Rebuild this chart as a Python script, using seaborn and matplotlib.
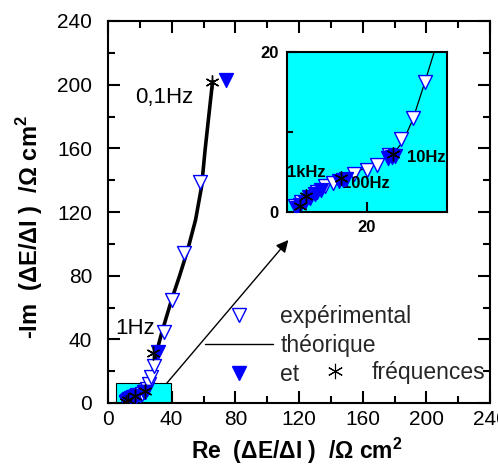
import matplotlib
matplotlib.use("Agg")
import matplotlib.pyplot as plt
from matplotlib.lines import Line2D
from matplotlib.patches import Rectangle
from matplotlib.ticker import MultipleLocator, FixedLocator
import seaborn as sns
import pandas as pd

# ---------------- data ----------------
theo_re = [11.2, 11.6, 12.35, 14.5, 16.8, 20.0, 23.3, 24.5, 25.7, 27.0, 28.4,
           29.5, 30.5, 34.0, 40.0, 45.0, 50.0, 55.0, 58.8, 61.0, 63.5, 65.7]
theo_im = [0.4, 0.7, 2.0, 3.1, 4.2, 5.6, 7.3, 8.8, 11.5, 15.5, 20.0,
           25.0, 32.0, 45.0, 65.0, 80.0, 96.0, 115.0, 136.0, 159.0, 182.0, 202.0]

exp_re = [11.0, 11.8, 12.7, 13.7, 14.75, 15.8, 18.4, 20.0, 21.2, 22.7, 24.3,
          25.8, 27.25, 29.0, 35.4, 40.0, 47.9, 57.8]
exp_im = [0.7, 1.3, 1.9, 2.5, 3.2, 3.6, 4.8, 5.25, 5.9, 7.1, 9.1,
          11.8, 16.3, 23.0, 44.8, 65.0, 94.0, 138.8]

freq_exp_re = [11.2, 11.6, 12.2, 12.9, 13.5, 14.2, 16.5, 17.0, 17.4, 22.6, 23.1, 23.5, 31.4, 73.9]
freq_exp_im = [0.5, 0.9, 1.3, 1.7, 2.2, 2.7, 3.9, 4.0, 4.1, 6.8, 6.9, 7.0, 32.0, 203.0]

freq_theo_re = [11.6, 12.35, 16.8, 23.3, 28.0, 65.1]
freq_theo_im = [0.7, 2.0, 4.2, 7.3, 31.5, 201.8]

theo = pd.DataFrame({"re": theo_re, "im": theo_im})
exp = pd.DataFrame({"re": exp_re, "im": exp_im})
fexp = pd.DataFrame({"re": freq_exp_re, "im": freq_exp_im})
fth = pd.DataFrame({"re": freq_theo_re, "im": freq_theo_im})

main_ticks_major = 40
main_ticks_minor = 20
inset_xlim = (10, 30)
inset_ylim = (0, 20)

BLUE = "#0000FF"
CYAN = "#00FFFF"
ASTER = (6, 2, 0)

# ---------------- style ----------------
sns.set_theme(style="ticks")
plt.rcParams["font.family"] = ["Liberation Sans", "DejaVu Sans"]
plt.rcParams["mathtext.fontset"] = "custom"
plt.rcParams["mathtext.rm"] = "Liberation Sans"
plt.rcParams["mathtext.bf"] = "Liberation Sans:bold"

fig = plt.figure(figsize=(4.98, 4.72), dpi=100)
ax = fig.add_axes([108 / 498, 69 / 472, 382 / 498, 382 / 472])


def draw(a, lw, z0=2):
    sns.lineplot(data=theo, x="re", y="im", sort=False, color="black",
                 linewidth=lw, ax=a, zorder=z0, estimator=None)
    sns.scatterplot(data=exp, x="re", y="im", marker="v", s=100,
                    facecolor="white", edgecolor=BLUE, linewidth=1.0,
                    ax=a, zorder=z0 + 1)
    sns.scatterplot(data=fexp, x="re", y="im", marker="v", s=100,
                    color=BLUE, edgecolor=BLUE, linewidth=1.0,
                    ax=a, zorder=z0 + 2)
    a.plot(fth["re"], fth["im"], linestyle="none", marker=ASTER,
           markersize=10, markeredgewidth=1.0, color="black", zorder=z0 + 3)


# inset-region rectangle on main plot
box_x0, box_y0, box_w, box_h = 4.8, 0.0, 34.6, 12.8
ax.add_patch(Rectangle((box_x0, box_y0), box_w, box_h, facecolor=CYAN,
                       edgecolor="black", linewidth=0.8, zorder=1))
draw(ax, 2.6)

ax.set_xlim(0, 240)
ax.set_ylim(0, 240)
ax.xaxis.set_major_locator(MultipleLocator(main_ticks_major))
ax.yaxis.set_major_locator(MultipleLocator(main_ticks_major))
ax.xaxis.set_minor_locator(MultipleLocator(main_ticks_minor))
ax.yaxis.set_minor_locator(MultipleLocator(main_ticks_minor))
ax.tick_params(which="both", direction="in", top=True, right=True,
               width=1.5, color="black", labelsize=15, labelcolor="black")
ax.tick_params(which="major", length=8.5)
ax.tick_params(which="minor", length=5)
ax.tick_params(axis="x", pad=5)
ax.tick_params(axis="y", pad=11.5)
for sp in ax.spines.values():
    sp.set_linewidth(1.5)
    sp.set_color("black")

ax.set_xlabel("Re  (ΔE/ΔI )  /Ω cm$^{\\mathbf{2}}$",
              fontsize=16.5, fontweight="bold", color="black")
ax.set_ylabel("-Im  (ΔE/ΔI )  /Ω cm$^{\\mathbf{2}}$",
              fontsize=17, fontweight="bold", color="black")
ax.xaxis.set_label_coords(0.495, -0.085)
ax.yaxis.set_label_coords(-0.165, 0.46)

ax.text(53.4, 192.2, "0,1Hz", fontsize=16, ha="right", va="center", color="black")
ax.text(4.4, 47.0, "1Hz", fontsize=16, ha="left", va="center", color="black")

# arrow from box to inset
ax.annotate("", xy=(113.3, 102.4), xytext=(box_x0 + box_w - 2.5, box_h - 0.4),
            arrowprops=dict(arrowstyle="-|>", color="black", lw=1.0,
                            mutation_scale=18, shrinkA=0, shrinkB=0), zorder=3)

# legends
h_open = Line2D([], [], linestyle="none", marker="v", markersize=10,
                markerfacecolor="white", markeredgecolor=BLUE, markeredgewidth=1.0)
h_line = Line2D([], [], color="black", linewidth=1.0)
h_fill = Line2D([], [], linestyle="none", marker="v", markersize=10,
                markerfacecolor=BLUE, markeredgecolor=BLUE)
h_star = Line2D([], [], linestyle="none", marker=ASTER, markersize=11,
                markeredgewidth=0.8, color="black")
leg1 = ax.legend(handles=[h_open, h_line, h_fill],
                 labels=["expérimental", "théorique", "et"],
                 loc="upper left", bbox_to_anchor=(0.254, 0.257),
                 frameon=False, fontsize=16.5, handlelength=2.97,
                 handletextpad=0.31, labelspacing=0.27, borderpad=0,
                 borderaxespad=0)
ax.add_artist(leg1)
ax.legend(handles=[h_star], labels=["fréquences"], loc="center left",
          bbox_to_anchor=(0.548, 0.081), frameon=False, fontsize=16.5,
          handlelength=1.5, handletextpad=0.87, borderpad=0, borderaxespad=0)

# ---------------- inset ----------------
ins = fig.add_axes([287 / 498, 260 / 472, 160 / 498, 160 / 472], zorder=5)
ins.set_facecolor(CYAN)
draw(ins, 0.9)
ins.set_xlim(*inset_xlim)
ins.set_ylim(*inset_ylim)
ins.xaxis.set_major_locator(FixedLocator([20]))
ins.yaxis.set_major_locator(FixedLocator([0, 20]))
ins.yaxis.set_minor_locator(FixedLocator([10]))
ins.tick_params(which="both", direction="in", width=1.5, color="black",
                labelsize=12, labelcolor="black", pad=6)
ins.tick_params(which="major", length=7)
ins.tick_params(which="minor", length=4.5)
for lab in ins.get_xticklabels() + ins.get_yticklabels():
    lab.set_fontweight("bold")
for sp in ins.spines.values():
    sp.set_linewidth(1.5)
    sp.set_color("black")
ins.set_xlabel("")
ins.set_ylabel("")
ins.text(10.0, 4.9, "1kHz", fontsize=12, fontweight="bold", ha="left", va="center", color="black")
ins.text(16.9, 3.6, "100Hz", fontsize=12, fontweight="bold", ha="left", va="center", color="black")
ins.text(25.0, 6.75, "10Hz", fontsize=12, fontweight="bold", ha="left", va="center", color="black")

fig.savefig("out.png", dpi=100)
